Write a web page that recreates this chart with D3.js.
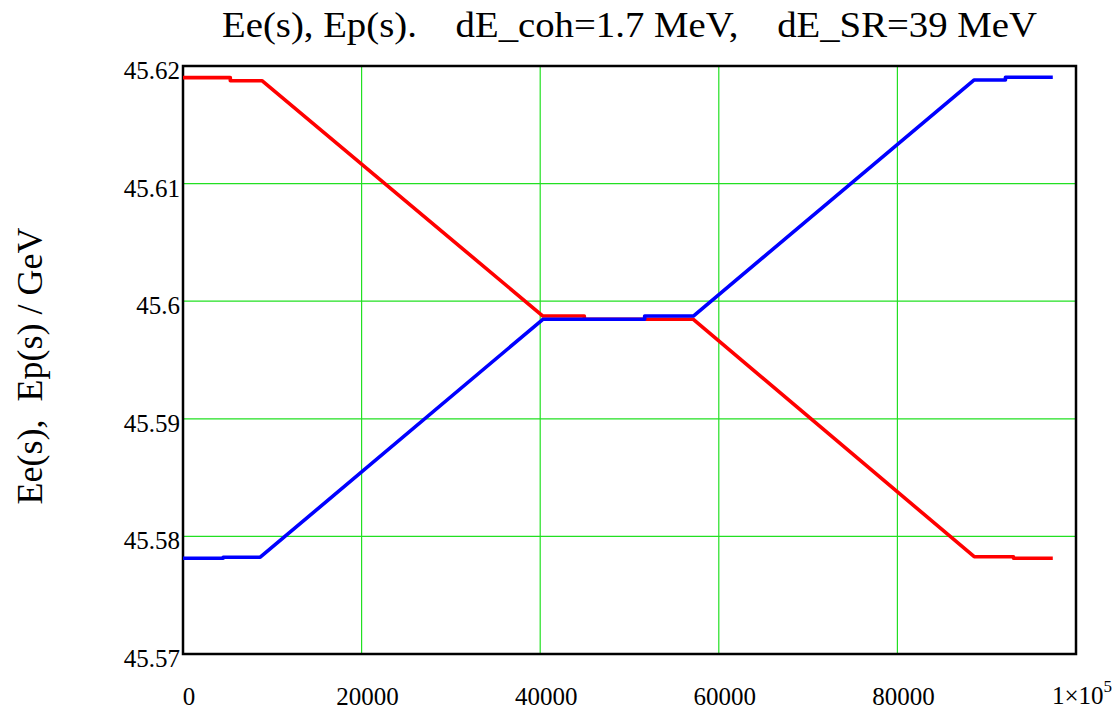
<!DOCTYPE html>
<meta charset="utf-8">
<style>
    body { margin: 0; background: white; }
    svg { background: white; display: block; }
    text { font-family: "Liberation Serif", "Times New Roman", serif; fill: black; }
    .grid line { stroke: #22e022; stroke-width: 1.2; }
    .curve { fill: none; stroke-width: 3.6; stroke-linejoin: round; }
</style>
<svg width="1115" height="710"></svg>
<script src="https://d3js.org/d3.v7.min.js"></script>
<script>
    // chart values
    var eeS = [0, 5300, 5300, 8840, 40300, 44940, 44940, 57150, 88600, 93000, 93000, 97400];
    var eeE = [45.61901, 45.61901, 45.61875, 45.61875, 45.59874, 45.59874, 45.59846, 45.59846, 45.57827, 45.57827, 45.57814, 45.57814];
    var epS = [0, 4500, 4500, 8650, 40300, 51700, 51700, 57150, 88600, 92100, 92100, 97400];
    var epE = [45.57814, 45.57814, 45.57823, 45.57823, 45.59846, 45.59846, 45.59874, 45.59874, 45.61881, 45.61881, 45.61904, 45.61904];
    var xTicks = [0, 20000, 40000, 60000, 80000];
    var yTicks = [45.57, 45.58, 45.59, 45.6, 45.61, 45.62];
    var titleText = "Ee(s), Ep(s).\u00a0\u00a0\u00a0 dE_coh=1.7 MeV,\u00a0\u00a0\u00a0 dE_SR=39 MeV";
    var yLabel = "Ee(s),\u00a0 Ep(s) / GeV";

    var svg = d3.select("svg"),
        plotL = 183, plotR = 1076, plotT = 66, plotB = 654;

    var x = d3.scaleLinear().domain([0, 100000]).range([plotL, plotR]);
    var y = d3.scaleLinear().domain([45.57, 45.62]).range([plotB, plotT]);

    // grid
    var grid = svg.append("g").attr("class", "grid");
    grid.selectAll(".gx")
        .data(xTicks.slice(1))
        .enter().append("line")
        .attr("x1", function (d) { return x(d); })
        .attr("x2", function (d) { return x(d); })
        .attr("y1", plotT).attr("y2", plotB);
    grid.selectAll(".gy")
        .data(yTicks.slice(1, -1))
        .enter().append("line")
        .attr("y1", function (d) { return y(d); })
        .attr("y2", function (d) { return y(d); })
        .attr("x1", plotL).attr("x2", plotR);

    // frame
    svg.append("rect")
        .attr("x", plotL).attr("y", plotT)
        .attr("width", plotR - plotL).attr("height", plotB - plotT)
        .attr("fill", "none").attr("stroke", "black").attr("stroke-width", 2.5);

    var line = d3.line()
        .x(function (d) { return x(d[0]); })
        .y(function (d) { return y(d[1]); });

    svg.append("path")
        .attr("class", "curve")
        .attr("stroke", "#ff0000")
        .attr("d", line(d3.zip(eeS, eeE)));
    svg.append("path")
        .attr("class", "curve")
        .attr("stroke", "#0000ff")
        .attr("d", line(d3.zip(epS, epE)));

    // tick labels
    svg.selectAll(".ylab")
        .data(yTicks)
        .enter().append("text")
        .attr("x", plotL - 3)
        .attr("y", function (d) { return y(d) + 13; })
        .attr("text-anchor", "end")
        .style("font-size", "25px")
        .text(function (d) { return d3.format("")(d); });

    svg.selectAll(".xlab")
        .data(xTicks)
        .enter().append("text")
        .attr("x", function (d) { return x(d) + 6; })
        .attr("y", 705)
        .attr("text-anchor", "middle")
        .style("font-size", "25px")
        .text(function (d) { return d; });

    var mult = svg.append("text")
        .attr("x", 1052).attr("y", 704)
        .style("font-size", "25px");
    mult.append("tspan").text("1\u00d710");
    mult.append("tspan").attr("dy", -12).style("font-size", "17px").text("5");

    svg.append("text")
        .attr("x", 222).attr("y", 37)
        .attr("textLength", 815)
        .attr("lengthAdjust", "spacingAndGlyphs")
        .style("font-size", "36px")
        .text(titleText);

    svg.append("text")
        .attr("transform", "translate(42,366) rotate(-90)")
        .attr("text-anchor", "middle")
        .style("font-size", "36px")
        .text(yLabel);
</script>
